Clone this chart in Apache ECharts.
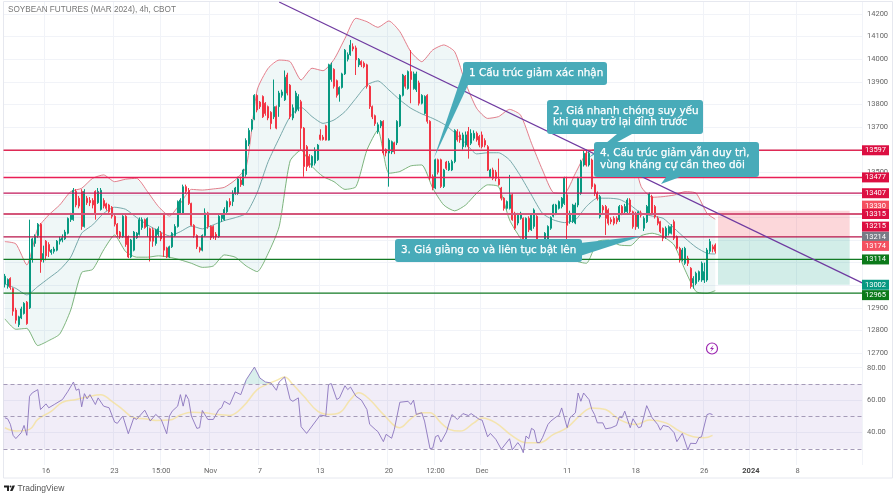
<!DOCTYPE html>
<html>
<head>
<meta charset="utf-8">
<title>Soybean futures</title>
<script src="https://cdn.jsdelivr.net/npm/echarts@6/dist/echarts.min.js"></script>
<style>
html, body { margin: 0; padding: 0; background: #fff; }
#chart { width: 896px; height: 498px; }
</style>
</head>
<body>
<div id="chart"></div>
<script>
// bars are [open, close, low, high]
const ohlc = [
[13005,13040,12990,13050],[12995,13025,12985,13030],[13030,12990,12980,13035],[12985,12885,12865,12990],[12890,12845,12830,12900],
[12825,12860,12815,12865],[12855,12895,12850,12905],[12875,12920,12870,12925],[12925,12830,12825,12930],[12900,13120,12895,13290],
[13115,13205,13100,13210],[13185,13215,13170,13225],[13220,13270,13210,13275],[13270,13105,13055,13275],[13115,13140,13100,13175],
[13195,13130,13110,13200],[13180,13150,13125,13190],[13145,13155,13135,13160],[13150,13160,13140,13170],[13155,13195,13150,13200],
[13195,13205,13180,13215],[13200,13210,13190,13225],[13205,13235,13200,13245],[13230,13295,13225,13300],[13290,13310,13280,13320],
[13290,13420,13285,13430],[13415,13355,13345,13425],[13385,13350,13340,13395],[13415,13260,13245,13425],[13260,13415,13255,13425],
[13385,13365,13355,13395],[13375,13365,13350,13390],[13375,13355,13340,13385],[13415,13320,13290,13420],[13365,13415,13360,13430],
[13335,13420,13330,13430],[13375,13350,13340,13385],[13360,13340,13330,13365],[13355,13325,13320,13360],[13345,13305,13295,13350],
[13305,13270,13260,13310],[13270,13225,13215,13275],[13235,13215,13205,13240],[13215,13305,13210,13310],[13305,13180,13170,13310],
[13215,13125,13120,13220],[13125,13200,13120,13205],[13155,13235,13150,13240],[13210,13230,13205,13235],[13225,13290,13220,13300],
[13255,13290,13245,13300],[13290,13255,13250,13295],[13260,13295,13215,13300],[13250,13195,13105,13255],[13245,13195,13170,13255],
[13185,13245,13175,13250],[13225,13250,13215,13260],[13230,13205,13195,13240],[13310,13155,13125,13310],[13165,13125,13120,13170],
[13125,13170,13120,13175],[13170,13230,13165,13235],[13220,13260,13215,13270],[13260,13370,13255,13375],[13318,13377,13315,13385],
[13318,13436,13315,13445],[13436,13415,13405,13445],[13420,13362,13355,13430],[13362,13265,13260,13365],[13265,13220,13210,13270],
[13220,13170,13160,13225],[13165,13155,13145,13170],[13155,13220,13150,13225],[13220,13320,13215,13340],[13320,13260,13250,13325],
[13260,13210,13200,13265],[13260,13215,13205,13265],[13225,13215,13200,13235],[13215,13305,13210,13310],[13295,13310,13280,13315],
[13290,13335,13285,13345],[13325,13370,13315,13375],[13370,13355,13345,13385],[13370,13405,13350,13420],[13405,13430,13400,13435],
[13407,13470,13400,13480],[13465,13445,13435,13480],[13445,13510,13440,13515],[13490,13640,13480,13650],[13625,13685,13615,13695],
[13690,13730,13680,13735],[13735,13840,13730,13845],[13840,13775,13765,13845],[13810,13790,13780,13815],[13835,13745,13740,13840],
[13805,13760,13750,13810],[13790,13740,13730,13795],[13765,13715,13690,13770],[13745,13790,13735,13910],[13790,13695,13690,13795],
[13790,13850,13745,13860],[13840,13855,13830,13865],[13820,13920,13815,13950],[13930,13850,13840,13940],[13885,13745,13735,13890],
[13740,13785,13730,13800],[13770,13850,13760,13860],[13780,13835,13770,13845],[13812,13695,13600,13820],[13695,13525,13480,13700],
[13613,13525,13505,13620],[13570,13530,13520,13580],[13530,13570,13520,13575],[13540,13597,13530,13610],[13555,13620,13550,13625],
[13665,13645,13640,13690],[13655,13645,13640,13665],[13705,13642,13640,13710],[13642,13975,13640,13980],[13910,13975,13900,13985],
[13955,13880,13870,13960],[13905,13840,13830,13910],[13845,13875,13812,13880],[13875,13935,13870,13940],[13935,14040,13930,14045],
[14000,14020,13990,14030],[14020,14062,14015,14085],[14055,14045,14035,14070],[14050,13997,13930,14060],[13975,14000,13965,14005],
[13990,13975,13965,13995],[13982,13967,13960,13990],[13975,13880,13870,13980],[13880,13790,13780,13885],[13790,13745,13735,13795],
[13750,13715,13705,13755],[13680,13710,13670,13720],[13705,13725,13695,13730],[13725,13585,13575,13730],[13600,13585,13570,13605],
[13585,13642,13436,13650],[13590,13635,13580,13640],[13630,13590,13580,13635],[13630,13725,13620,13730],[13705,13840,13700,13845],
[13840,13930,13835,13935],[13925,13880,13870,13930],[13870,13945,13865,13950],[13945,13910,13805,14040],[13870,13935,13865,13945],
[13865,13935,13855,13945],[13895,13805,13795,13905],[13805,13840,13800,13845],[13760,13835,13755,13840],[13840,13725,13715,13845],
[13725,13475,13465,13730],[13480,13430,13420,13490],[13430,13555,13425,13560],[13555,13500,13490,13560],[13555,13437,13430,13560],
[13437,13510,13430,13515],[13545,13517,13510,13550],[13510,13540,13505,13550],[13510,13547,13505,13555],[13547,13685,13540,13690],
[13680,13643,13635,13690],[13665,13643,13630,13680],[13613,13665,13600,13675],[13620,13665,13610,13680],[13680,13613,13560,13700],
[13628,13672,13620,13690],[13650,13672,13640,13685],[13672,13643,13635,13680],[13658,13620,13610,13665],[13665,13613,13605,13680],
[13640,13620,13610,13650],[13613,13510,13505,13620],[13480,13510,13475,13515],[13510,13473,13465,13520],[13500,13473,13460,13510],
[13470,13445,13440,13560],[13430,13385,13375,13435],[13385,13340,13330,13390],[13340,13370,13335,13375],[13340,13400,13335,13488],
[13400,13290,13285,13405],[13318,13252,13245,13325],[13275,13310,13265,13320],[13296,13318,13290,13325],[13296,13193,13185,13300],
[13200,13296,13190,13300],[13296,13245,13235,13305],[13245,13310,13240,13315],[13260,13333,13250,13340],[13305,13171,13160,13310],
[13185,13140,13130,13190],[13130,13170,13125,13175],[13140,13230,13135,13235],[13185,13260,13180,13265],[13252,13300,13245,13305],
[13305,13355,13300,13360],[13318,13355,13310,13360],[13340,13370,13335,13375],[13348,13385,13340,13390],[13362,13473,13355,13480],
[13400,13265,13190,13480],[13282,13318,13272,13330],[13282,13355,13275,13360],[13275,13355,13270,13365],[13355,13473,13345,13480],
[13407,13547,13400,13555],[13532,13584,13525,13595],[13584,13532,13525,13600],[13532,13584,13525,13590],[13554,13436,13425,13560],
[13444,13407,13395,13450],[13407,13385,13375,13415],[13303,13392,13295,13400],[13348,13333,13320,13355],[13348,13296,13222,13355],
[13333,13274,13265,13340],[13290,13281,13270,13300],[13296,13274,13265,13305],[13296,13281,13270,13305],[13289,13348,13280,13355],
[13348,13318,13310,13355],[13325,13348,13315,13360],[13325,13377,13315,13385],[13377,13325,13315,13385],[13325,13259,13250,13330],
[13318,13259,13245,13325],[13259,13325,13250,13330],[13320,13310,13300,13330],[13252,13296,13240,13305],[13281,13348,13275,13355],
[13318,13404,13310,13410],[13392,13318,13310,13400],[13348,13303,13295,13355],[13296,13274,13265,13305],[13281,13237,13230,13285],
[13252,13208,13195,13255],[13215,13252,13205,13260],[13230,13259,13220,13265],[13230,13259,13225,13270],[13281,13208,13200,13290],
[13215,13163,13155,13220],[13163,13112,13100,13170],[13112,13156,13105,13165],[13097,13163,13090,13170],[13119,13097,13085,13130],
[13075,12994,12985,13080],[13010,13030,12985,13040],[13008,13053,13000,13060],[13023,13060,13015,13065],[13023,13097,13015,13105],
[13023,13060,13010,13100],[13023,13156,13015,13165],[13150,13193,13140,13205],[13170,13160,13145,13180],[13178,13150,13140,13185]
];

// bollinger bands, sampled every few bars
const bbBars = [0,4,8,12,16,20,24,28,32,36,40,44,48,52,56,60,64,68,72,76,80,84,88,92,96,100,104,108,112,116,120,124,128,132,136,140,144,148,152,156,160,164,168,172,176,180,184,188,192,196,200,204,208,212,216,220,224,228,232,236,240,244,248,252,256,259];
const bbUpper = [
13193,13183,13090,13252,13311,13355,13414,13429,13473,13488,
13458,13469,13473,13414,13348,13306,13362,13424,13421,13426,
13433,13466,13524,13864,13960,13996,13989,13908,13960,13949,
13999,14092,14181,14166,14141,14169,14122,14033,13989,14041,
14063,14033,13893,13783,13738,13746,13778,13753,13628,13510,
13410,13407,13495,13584,13606,13613,13613,13606,13436,13389,
13392,13399,13414,13407,13318,13292];
const bbMiddle = [
13006,12986,12957,12994,13031,13068,13124,13230,13267,13318,
13345,13336,13300,13267,13240,13218,13237,13262,13249,13267,
13286,13299,13318,13410,13547,13650,13746,13787,13746,13716,
13731,13768,13827,13886,13904,13864,13820,13783,13758,13738,
13713,13675,13628,13581,13586,13586,13554,13483,13399,13318,
13289,13277,13289,13348,13385,13385,13380,13355,13318,13306,
13296,13252,13208,13168,13141,13138];
const bbLower = [
12851,12805,12809,12733,12755,12784,12890,13056,13070,13156,
13222,13149,13124,13124,13130,13124,13112,13097,13079,13085,
13134,13124,13085,13060,13141,13259,13550,13598,13525,13481,
13458,13424,13436,13598,13687,13495,13503,13528,13532,13429,
13355,13329,13355,13407,13444,13436,13289,13208,13153,13115,
13149,13171,13109,13097,13193,13200,13178,13175,13219,13230,
13215,13178,13067,12972,12964,12976];

// rsi turning points as [bar, value]
const rsiPoints = [
[0,49.1],[1,48.5],[2,45.1],[3,38.3],[4,36.3],[6,40],[7,44.4],[8,38.3],[9,62.4],[10,64.5],[12,66.5],[13,54.2],[15,57.7],[16,55.3],[18,57.3],
[21,60.4],[23,65.5],[25,71.2],[26,66.1],[27,66.9],[28,55.9],[29,64],[30,60.8],[31,63.4],[33,57.3],[34,61.4],[36,56.3],[38,55.3],[40,46.5],
[41,45.7],[43,50.2],[45,39.3],[47,49.1],[48,48.1],[51,53.8],[53,47.1],[55,51.2],[57,48.1],[59,39.3],[60,50.2],[61,53.2],[63,56.3],[64,63.4],
[65,56.3],[66,63.4],[67,60.4],[68,50.2],[70,42.6],[71,43],[72,53.6],[74,48.1],[76,48.1],[78,54.2],[79,55.3],[80,59.3],[82,57.3],[84,65.1],
[86,63.4],[88,72.6],[91,80.4],[93,73.6],[95,71.2],[97,70.6],[99,66.1],[100,71.2],[102,74.3],[104,60.4],[105,59.3],[107,61.4],[108,43.6],
[110,39.5],[115,50.8],[117,50.2],[118,69.6],[119,70.2],[121,60.4],[122,61.4],[124,68.9],[125,66.5],[126,68.1],[128,62.4],[130,60],[132,54.2],
[133,45.1],[135,42],[136,40.6],[138,34.4],[139,38.9],[141,36.5],[142,42],[144,58.7],[147,59.3],[148,57.3],[149,60],[150,51.2],[152,52.2],
[153,47.1],[155,30.1],[156,30.4],[157,37.5],[158,38.3],[159,34.2],[161,40.4],[162,46],[163,51.1],[165,48.1],[167,51.7],[169,50.5],[170,51.7],
[173,48.1],[174,47.7],[176,37.4],[177,39.5],[179,35.8],[181,29.7],[184,36.2],[185,29.3],[187,33.8],[188,31.7],[189,27.6],[190,37.9],[191,36.2],
[192,42.6],[193,41.5],[194,33.8],[195,33.8],[196,36.8],[198,45],[199,47],[201,49.7],[202,50.5],[203,55.2],[205,43],[206,49.1],[208,52.2],
[209,64.4],[210,59.3],[211,64.4],[213,60.3],[214,54.2],[215,51.1],[216,46],[218,46],[219,42.3],[221,42.9],[223,44.4],[224,49.7],[225,49.1],
[226,53.2],[228,43],[229,48.5],[231,43],[232,43.6],[234,56.6],[236,49.1],[238,45],[239,41.5],[240,44.4],[242,43.6],[244,39.9],[245,34.4],
[247,39.5],[249,29.3],[250,33.4],[252,33.2],[253,36.8],[254,37.4],[256,51.1],[257,51.7],[258,51.1]
];
const rsiMaPoints = [
[0,43],[4,41],[9,42],[12,48.1],[17,53.2],[21,58.7],[26,60.4],[30,62],[35,63.4],[39,59.3],[43,54.2],[47,49.1],[51,48.5],[55,47.5],[60,47.7],
[64,50.8],[68,52.6],[73,52.2],[77,51.2],[82,50.6],[87,56.3],[92,66.5],[96,70],[99,72.2],[102,74.3],[105,69.6],[109,62.4],[114,53.2],[118,51.2],
[122,52.2],[126,60.4],[129,64.5],[133,60.4],[138,51.2],[144,43],[148,48.5],[152,52.2],[155,52.2],[159,46],[162,42],[166,40.9],[171,46],[174,49],
[179,46],[185,37.9],[190,33.8],[195,33.8],[200,38.9],[205,43],[210,51.1],[214,55.2],[219,54.2],[224,48.1],[230,45],[235,47.7],[241,46],[246,40.9],
[251,37.4],[255,36.8],[258,38.3]
];
const rsiOverPoints = [[87,70],[88,72.6],[91,80.4],[93,73.6],[95,71.2],[97,70.6],[98,70]];

const barCount = 313;
const tickBars = [15,40,57,75,93,115,140,157,174,205,230,255,272,289];
const tickLabels = ['16','23','15:00','Nov','7','13','20','12:00','Dec','11','18','26','2024','8'];
const priceTicks = [12700,12800,12900,13000,13100,13200,13300,13400,13500,13600,13700,13800,13900,14000,14100,14200];
const rsiTicks = [40,60,80];

// drawn levels, then the price tags on the scale
const levelValues = [13597,13477,13407,13315,13214,13114,12965];
const levelColors = ['#df2a55','#e91e56','#c2185b','#d4567a','#b8154a','#137a24','#137a24'];
const levelWidths = [1.5,1.5,1.2,2,1.2,1.2,1.2];
const tagValues = [13597,13477,13407,13330,13315,13215,13214,13174,13114,13002,12965];
const tagShifts = [0,0,0,-5,0,-10,0,0,0,0,2];
const tagColors = ['#dc0f42','#dc0f42','#dc0f42','#f45060','#dc0f42','#dc0f42','#787b86','#f45060','#0c7a1a','#089981','#0c7a1a'];

const trendBars = [100,313];
const trendValues = [14253,13008];
const boxBars = [260,308];
const boxLevels = [13330,13214,13002];

const callouts = [
    { lines: ['1 Cấu trúc giảm xác nhận'], box: [463, 62, 144, 23], tail: [[463, 72], [468, 85], [434, 158]] },
    { lines: ['2. Giá nhanh chóng suy yếu', 'khi quay trở lại đỉnh trước'], box: [547, 100, 156, 34], tail: [[617, 134], [632, 134], [588, 158]] },
    { lines: ['3. Giá giằng co và liên tục bật lên'], box: [395, 239, 187, 23], tail: [[580, 243], [642, 236], [580, 256]] },
    { lines: ['4. Cấu trúc giảm vẫn duy trì,', 'vùng kháng cự cần theo dõi'], box: [594, 142, 165, 35], tail: [[666, 177], [680, 177], [661, 184]] }
];

const chart = echarts.init(document.getElementById('chart'), null, { renderer: 'canvas' });
const labelFont = 'Roboto, sans-serif';
const gridColor = '#f1f3f8';

const isTickBar = (index) => tickBars.includes(index);
const barNames = Array.from({ length: barCount }, (_, i) => String(i));

const option = {
    animation: false,
    backgroundColor: '#fff',
    grid: [
        { left: 3.5, width: 858.5, top: 2, height: 356 },
        { left: 3.5, width: 858.5, top: 358, height: 107 }
    ],
    xAxis: [
        {
            type: 'category', gridIndex: 0, data: barNames, boundaryGap: true,
            axisLine: { show: false }, axisTick: { show: false }, axisLabel: { show: false },
            splitLine: { show: true, interval: isTickBar, lineStyle: { color: gridColor, width: 1 } }
        },
        {
            type: 'category', gridIndex: 1, data: barNames, boundaryGap: true,
            axisLine: { show: false }, axisTick: { show: false },
            splitLine: { show: true, interval: isTickBar, lineStyle: { color: gridColor, width: 1 } },
            axisLabel: {
                interval: isTickBar,
                margin: 2,
                color: '#666',
                fontFamily: labelFont,
                fontSize: 7.5,
                formatter: (value, index) => {
                    const label = tickLabels[tickBars.indexOf(index)];
                    return label === '2024' ? '{b|2024}' : label;
                },
                rich: { b: { fontFamily: labelFont, fontSize: 7.5, fontWeight: 'bold', color: '#444' } }
            }
        }
    ],
    yAxis: [
        {
            type: 'value', gridIndex: 0, position: 'right', min: 12678, max: 14253, scale: true,
            axisLine: { show: false },
            axisTick: { show: false, customValues: priceTicks },
            axisLabel: { customValues: priceTicks, color: '#666', fontFamily: labelFont, fontSize: 7.5, margin: 5, formatter: (v) => String(v) },
            splitLine: { show: true, lineStyle: { color: gridColor, width: 1 } }
        },
        {
            type: 'value', gridIndex: 1, position: 'right', min: 20, max: 86,
            axisLine: { show: false },
            axisTick: { show: false, customValues: rsiTicks },
            axisLabel: { customValues: rsiTicks, color: '#666', fontFamily: labelFont, fontSize: 7.5, margin: 5, formatter: (v) => v.toFixed(2) },
            splitLine: { show: true, lineStyle: { color: gridColor, width: 1 } }
        }
    ],
    series: [
        {
            // shaded area between the bands
            type: 'custom', xAxisIndex: 0, yAxisIndex: 0, z: 1, silent: true, clip: true,
            data: [[0, bbUpper[0]]],
            renderItem: (params, api) => {
                const points = [];
                bbBars.forEach((bar, i) => points.push(api.coord([bar, bbUpper[i]])));
                for (let i = bbBars.length - 1; i >= 0; i--) points.push(api.coord([bbBars[i], bbLower[i]]));
                return { type: 'polygon', shape: { points }, style: { fill: 'rgba(20,130,130,0.065)' } };
            }
        },
        {
            // planned trade boxes
            type: 'custom', xAxisIndex: 0, yAxisIndex: 0, z: 2, silent: true,
            data: [[boxBars[0], boxLevels[0]]],
            renderItem: (params, api) => {
                const [x0, top] = api.coord([boxBars[0], boxLevels[0]]);
                const [x1, mid] = api.coord([boxBars[1], boxLevels[1]]);
                const bottom = api.coord([boxBars[1], boxLevels[2]])[1];
                return {
                    type: 'group',
                    children: [
                        { type: 'rect', shape: { x: x0, y: top, width: x1 - x0, height: mid - top }, style: { fill: 'rgba(242,54,69,0.2)' } },
                        { type: 'rect', shape: { x: x0, y: mid, width: x1 - x0, height: bottom - mid }, style: { fill: 'rgba(8,153,129,0.18)' } }
                    ]
                };
            }
        },
        {
            name: 'BB upper', type: 'line', xAxisIndex: 0, yAxisIndex: 0, z: 3, showSymbol: false, smooth: 0.2, silent: true,
            data: bbBars.map((bar, i) => [bar, bbUpper[i]]),
            lineStyle: { color: '#e0707f', width: 0.9 }
        },
        {
            name: 'BB middle', type: 'line', xAxisIndex: 0, yAxisIndex: 0, z: 3, showSymbol: false, smooth: 0.2, silent: true,
            data: bbBars.map((bar, i) => [bar, bbMiddle[i]]),
            lineStyle: { color: '#6a9fa2', width: 0.9 }
        },
        {
            name: 'BB lower', type: 'line', xAxisIndex: 0, yAxisIndex: 0, z: 3, showSymbol: false, smooth: 0.2, silent: true,
            data: bbBars.map((bar, i) => [bar, bbLower[i]]),
            lineStyle: { color: '#6eab6e', width: 0.9 }
        },
        {
            name: 'Price', type: 'candlestick', xAxisIndex: 0, yAxisIndex: 0, z: 4, silent: true,
            barWidth: 1.5,
            data: ohlc,
            itemStyle: { color: '#089981', color0: '#f23645', borderColor: '#089981', borderColor0: '#f23645', borderWidth: 1 }
        },
        {
            // horizontal levels across the whole plot
            name: 'Levels', type: 'custom', xAxisIndex: 0, yAxisIndex: 0, z: 5, silent: true,
            data: levelValues.map((v) => [0, v]),
            renderItem: (params, api) => {
                const y = api.coord([0, levelValues[params.dataIndex]])[1];
                return {
                    type: 'rect',
                    shape: {
                        x: params.coordSys.x,
                        y: y - levelWidths[params.dataIndex] / 2,
                        width: params.coordSys.width,
                        height: levelWidths[params.dataIndex]
                    },
                    style: { fill: levelColors[params.dataIndex] }
                };
            }
        },
        {
            name: 'Trend', type: 'line', xAxisIndex: 0, yAxisIndex: 0, z: 6, showSymbol: false, silent: true,
            data: trendBars.map((bar, i) => [bar, trendValues[i]]),
            lineStyle: { color: '#6f3aa0', width: 1.2 }
        },
        {
            name: 'RSI over', type: 'line', xAxisIndex: 1, yAxisIndex: 1, z: 3, showSymbol: false, silent: true,
            data: rsiOverPoints,
            lineStyle: { width: 0 },
            areaStyle: { color: 'rgba(8,153,129,0.22)', origin: 70 }
        },
        {
            name: 'RSI MA', type: 'line', xAxisIndex: 1, yAxisIndex: 1, z: 3, showSymbol: false, smooth: 0.4, silent: true,
            data: rsiMaPoints,
            lineStyle: { color: '#f5e08e', width: 1.5, opacity: 0.7 }
        },
        {
            name: 'RSI', type: 'line', xAxisIndex: 1, yAxisIndex: 1, z: 4, showSymbol: false, silent: true,
            data: rsiPoints,
            lineStyle: { color: '#8a74bd', width: 0.9 },
            markArea: {
                silent: true, itemStyle: { color: 'rgba(126,87,194,0.11)' },
                data: [[{ yAxis: 70 }, { yAxis: 30 }]]
            },
            markLine: {
                silent: true, symbol: 'none', animation: false, label: { show: false },
                lineStyle: { color: '#a59bb8', width: 1, type: [4, 3] },
                data: [{ yAxis: 70 }, { yAxis: 50 }, { yAxis: 30 }]
            }
        }
    ]
};
chart.setOption(option);

// scale tags need the axis, so they go in once it has been laid out
const overlay = [];
overlay.push({
    type: 'rect', z: 0, silent: true,
    shape: { x: 3.5, y: 1.5, width: 889, height: 476.5 },
    style: { fill: 'none', stroke: '#e6e8ef', lineWidth: 1 }
});
tagValues.forEach((v, i) => {
    const y = chart.convertToPixel({ yAxisIndex: 0 }, v) + tagShifts[i];
    overlay.push({
        type: 'rect', z: 50, silent: true,
        shape: { x: 862, y: y - 5, width: 27, height: 10 },
        style: { fill: tagColors[i] }
    });
    overlay.push({
        type: 'text', z: 51, silent: true, x: 875.5, y: y,
        style: { text: String(v), fill: '#fff', font: '7.5px ' + labelFont, align: 'center', verticalAlign: 'middle' }
    });
});
callouts.forEach((c) => {
    overlay.push({ type: 'polygon', z: 60, silent: true, shape: { points: c.tail }, style: { fill: '#48abb9' } });
    overlay.push({
        type: 'rect', z: 60, silent: true,
        shape: { x: c.box[0], y: c.box[1], width: c.box[2], height: c.box[3], r: 3 },
        style: { fill: '#48abb9' }
    });
    c.lines.forEach((line, i) => {
        const lineHeight = 11.5;
        const mid = c.box[1] + c.box[3] / 2 + (i - (c.lines.length - 1) / 2) * lineHeight;
        overlay.push({
            type: 'text', z: 61, silent: true, x: c.box[0] + 6, y: mid,
            style: { text: line, fill: '#fff', stroke: '#fff', lineWidth: 0.25, font: '10.4px "DejaVu Sans", sans-serif', align: 'left', verticalAlign: 'middle' }
        });
    });
});
// title
overlay.push({
    type: 'text', z: 40, silent: true, x: 8, y: 10,
    style: { text: 'SOYBEAN FUTURES (MAR 2024), 4h, CBOT', fill: '#777', font: '8.2px "Liberation Sans", sans-serif', align: 'left', verticalAlign: 'middle' }
});
// alert icon under the last bar
overlay.push({
    type: 'circle', z: 40, silent: true, shape: { cx: 712, cy: 348.5, r: 5.5 },
    style: { fill: '#fff', stroke: '#9c27b0', lineWidth: 1.2 }
});
overlay.push({
    type: 'polygon', z: 41, silent: true,
    shape: { points: [[713.5, 345], [710, 349], [712, 349], [710.5, 352], [714, 348], [712, 348]] },
    style: { fill: '#9c27b0' }
});
// TradingView mark
overlay.push({
    type: 'polygon', z: 40, silent: true,
    shape: { points: [[4, 485.5], [9, 485.5], [9, 491], [7, 491], [7, 487.5], [4, 487.5]] },
    style: { fill: '#222' }
});
overlay.push({ type: 'circle', z: 40, silent: true, shape: { cx: 10.5, cy: 486.5, r: 1 }, style: { fill: '#222' } });
overlay.push({
    type: 'polygon', z: 40, silent: true,
    shape: { points: [[12.5, 485.5], [15, 485.5], [12.5, 491], [10, 491]] },
    style: { fill: '#222' }
});
overlay.push({
    type: 'text', z: 40, silent: true, x: 17.5, y: 488.5,
    style: { text: 'TradingView', fill: '#555', font: '8.5px "Liberation Sans", sans-serif', align: 'left', verticalAlign: 'middle' }
});
chart.setOption({ graphic: overlay });
</script>
</body>
</html>
